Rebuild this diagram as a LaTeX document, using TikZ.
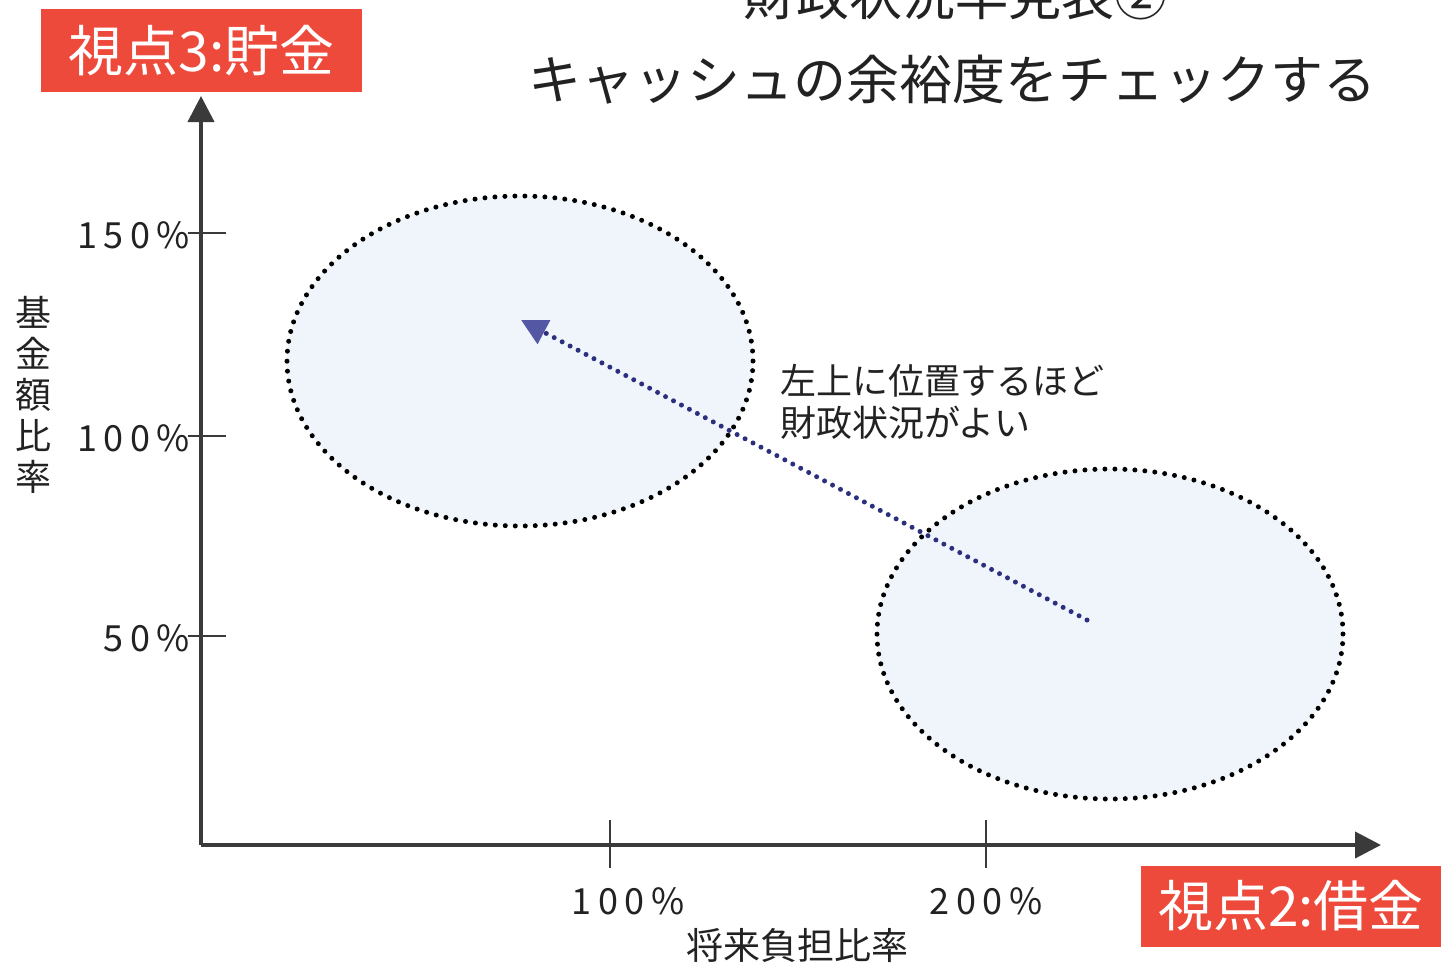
\documentclass[tikz,border=0pt]{standalone}
\usepackage{fontspec}
\setmainfont{Noto Sans CJK JP}
\newfontfamily\numfont[LetterSpace=18]{Noto Sans CJK JP}
\usetikzlibrary{arrows.meta,shapes.geometric}
\definecolor{boxred}{HTML}{EE4A3C}
\definecolor{axisgray}{HTML}{3A3A3A}
\definecolor{ellfill}{HTML}{F0F5FB}
\definecolor{arrnavy}{HTML}{2B2F7E}
\definecolor{tipblue}{HTML}{5457A3}
\definecolor{txtgray}{HTML}{222222}
\tikzset{
  redbox/.style={fill=boxred, text=white, inner sep=0pt, minimum width=321pt, minimum height=83pt, font=\fontsize{55}{60}\selectfont},
  axisline/.style={draw=axisgray, line width=4pt, -{Triangle[length=26pt,width=26pt]}},
  tickline/.style={draw=axisgray, line width=1.6pt},
  ticklabel/.style={inner sep=0pt, text=txtgray, font=\numfont\fontsize{36}{40}\selectfont},
  jplabel/.style={inner sep=0pt, text=txtgray, font=\fontsize{36}{42}\selectfont},
  zone/.style={ellipse, fill=ellfill, draw=black, line width=5pt, line cap=round, dash pattern=on 0pt off 10pt, minimum width=466pt, minimum height=330pt, inner sep=0pt},
  trend/.style={draw=arrnavy, line width=5pt, line cap=round, dash pattern=on 0pt off 9pt, -{Triangle[length=26pt,width=26pt,fill=tipblue,color=tipblue]}}
}
\begin{document}
\begin{tikzpicture}[x=1pt,y=-1pt]
\useasboundingbox (0,0) rectangle (1441,966);
\clip (0,0) rectangle (1441,966);
% titles
\node[inner sep=0pt, text=txtgray, font=\fontsize{53}{60}\selectfont] (title1) at (955,-5) {財政状況早見表②};
\node[inner sep=0pt, text=txtgray, font=\fontsize{53}{60}\selectfont] (title2) at (952,80) {キャッシュの余裕度をチェックする};
% zones
\node[zone] (good) at (520,361) {};
\node[zone] (bad) at (1110,634) {};
% axes
\coordinate (O) at (201,845);
\coordinate (ytop) at (201,96);
\coordinate (xend) at (1381,845);
\draw[axisline] (O) -- (ytop);
\draw[axisline] (O) -- (xend);
% y ticks
\foreach \yy/\lab/\nm in {233/150/ya,436/100/yb,636/50/yc}{
  \coordinate (\nm L) at (188,\yy);
  \coordinate (\nm R) at (226,\yy);
  \draw[tickline] (\nm L) -- (\nm R);
  \node[ticklabel, anchor=east] (\nm t) at (190,\yy+2) {\lab\%};
}
% x ticks
\foreach \xx/\lx/\lab/\nm in {610/628/100/xa,986/986/200/xb}{
  \coordinate (\nm T) at (\xx,820);
  \coordinate (\nm B) at (\xx,868);
  \draw[tickline] (\nm T) -- (\nm B);
  \node[ticklabel] (\nm t) at (\lx,901) {\lab\%};
}
% axis titles
\node[jplabel, align=center, font=\fontsize{36}{41}\selectfont] (ylab) at (33,395) {基\\金\\額\\比\\率};
\node[jplabel, font=\fontsize{37}{42}\selectfont] (xlab) at (797,945) {将来負担比率};
% red boxes
\node[redbox] (v3) at (201.5,50.5) {視点3:貯金};
\node[redbox, minimum width=301pt, minimum height=81pt] (v2) at (1291,906) {視点2:借金};
% trend arrow
\coordinate (from) at (1087,620);
\coordinate (to) at (521,320);
\draw[trend] (from) -- (to);
\node[jplabel, anchor=west, align=left] (note) at (780,402) {左上に位置するほど\\財政状況がよい};
\end{tikzpicture}
\end{document}
